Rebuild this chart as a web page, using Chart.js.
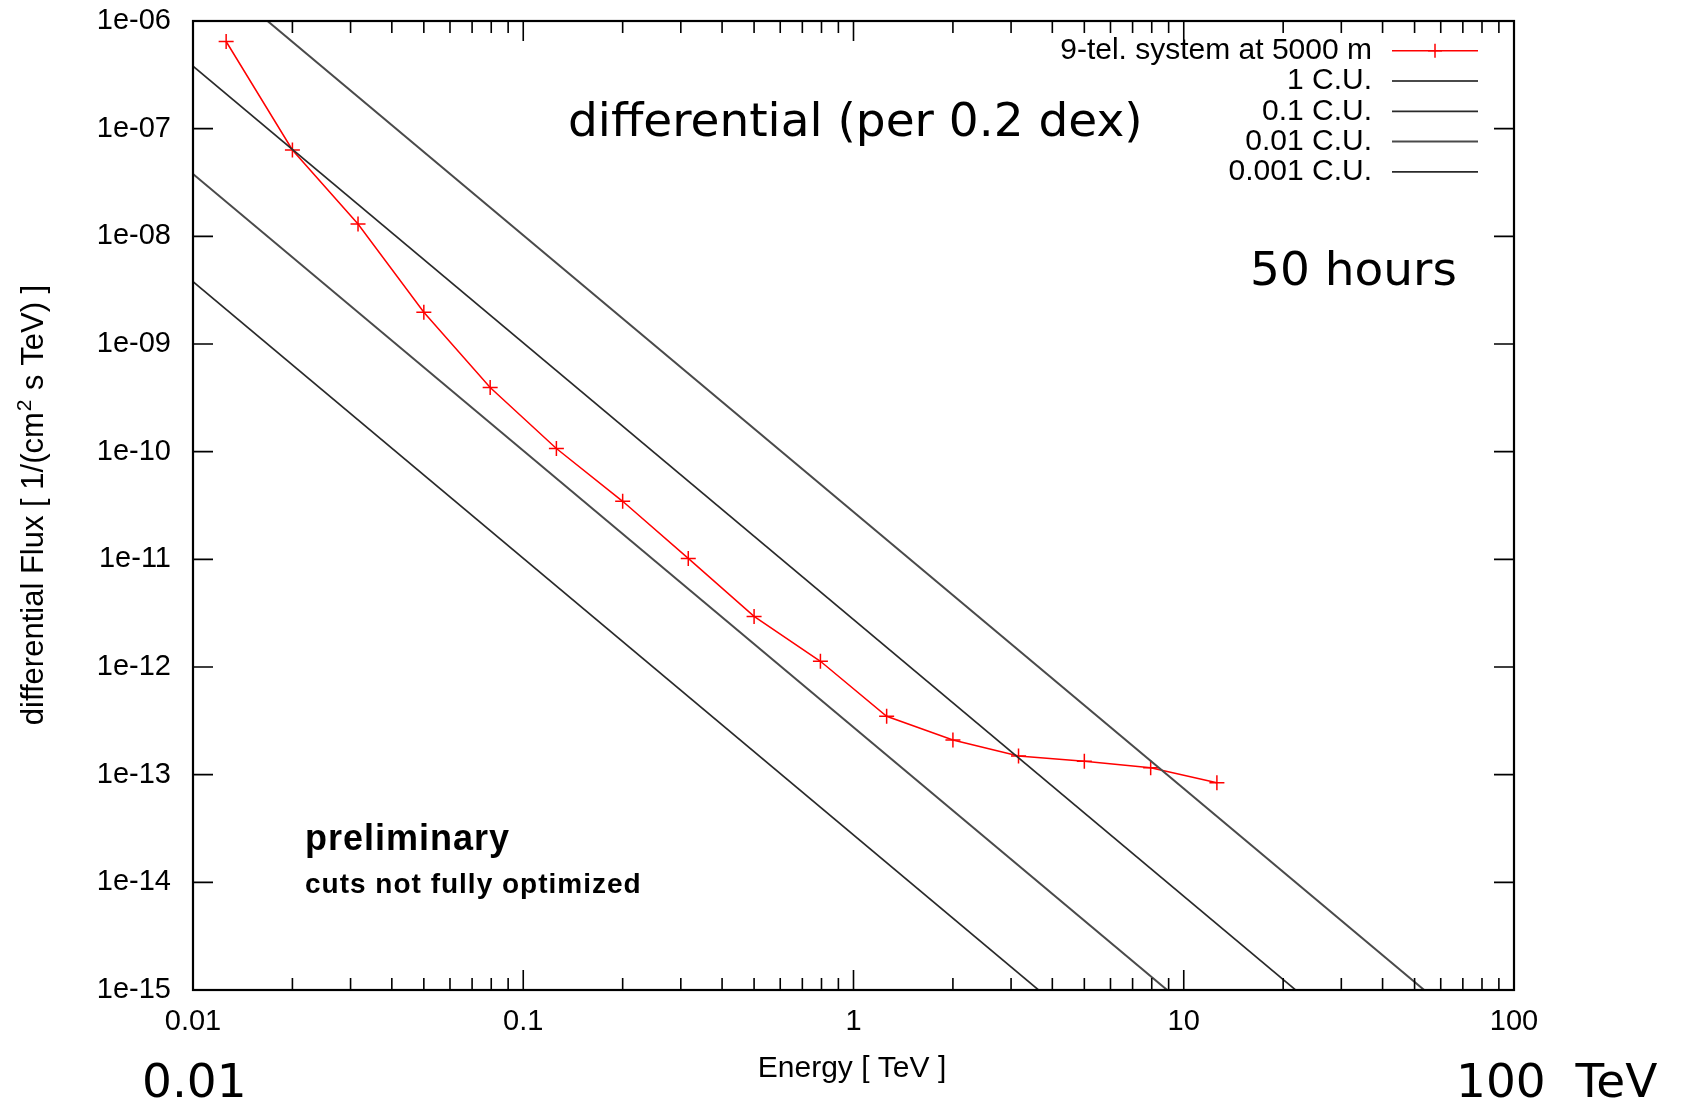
<!DOCTYPE html>
<html>
<head>
<meta charset="utf-8">
<script src="https://cdn.jsdelivr.net/npm/chart.js@4.4.0/dist/chart.umd.min.js"></script>
<style>
html,body{margin:0;padding:0;background:#fff;}
#wrap{width:1682px;height:1101px;position:relative;}
canvas{display:block;}
</style>
</head>
<body>
<div id="wrap"><canvas id="c" width="1682" height="1101"></canvas></div>
<script>
// ---- data ----
const energies = [0.0126, 0.02, 0.0316, 0.05, 0.0794, 0.126, 0.2, 0.316, 0.5, 0.794, 1.26, 2, 3.16, 5, 7.94, 12.6];
const fluxSystem = [6.45e-7, 6.34e-8, 1.30e-8, 1.97e-9, 3.95e-10, 1.07e-10, 3.46e-11, 1.02e-11, 2.95e-12, 1.13e-12, 3.49e-13, 2.10e-13, 1.49e-13, 1.33e-13, 1.16e-13, 8.4e-14];
const crabEnergies = [0.01, 100];
const crab1 = [3.8e-6, 2.0e-16];
const crab01 = [3.8e-7, 2.0e-17];
const crab001 = [3.8e-8, 2.0e-18];
const crab0001 = [3.8e-9, 2.0e-19];
const seriesLabels = ['9-tel. system at 5000 m', '1 C.U.', '0.1 C.U.', '0.01 C.U.', '0.001 C.U.'];
const xTickValues = [0.01, 0.1, 1, 10, 100];
const xTickLabels = ['0.01', '0.1', '1', '10', '100'];
const yTickValues = [1e-15, 1e-14, 1e-13, 1e-12, 1e-11, 1e-10, 1e-9, 1e-8, 1e-7, 1e-6];
const yTickLabels = ['1e-15', '1e-14', '1e-13', '1e-12', '1e-11', '1e-10', '1e-09', '1e-08', '1e-07', '1e-06'];
const xMinorFactors = [2, 3, 4, 5, 6, 7, 8, 9];

const pts = (xs, ys) => xs.map((x, i) => ({x: x, y: ys[i]}));

const lineStyles = [
  {color: '#ff0000', width: 1.5},
  {color: '#4a4a4a', width: 2.0},
  {color: '#2a2a2a', width: 1.7},
  {color: '#4a4a4a', width: 2.0},
  {color: '#2a2a2a', width: 1.7}
];

function txt(ctx, s, x, y, font, align, baseline, spacing) {
  ctx.save();
  ctx.font = font;
  ctx.letterSpacing = (spacing || 0) + 'px';
  ctx.textAlign = align;
  ctx.textBaseline = baseline;
  ctx.fillStyle = '#000';
  let dx = 0;
  if (align === 'right' && spacing) dx = spacing;
  if (align === 'center' && spacing) dx = spacing / 2;
  ctx.fillText(s, x + dx, y);
  ctx.restore();
}

const framePlugin = {
  id: 'frame',
  afterDraw(chart) {
    const ctx = chart.ctx;
    const a = chart.chartArea;
    const xs = chart.scales.x, ys = chart.scales.y;
    ctx.save();
    ctx.strokeStyle = '#000';
    ctx.lineWidth = 1.6;
    const majorLen = 20, minorLen = 12;
    ctx.beginPath();
    for (let d = 0; d < xTickValues.length; d++) {
      const v = xTickValues[d];
      const px = xs.getPixelForValue(v);
      ctx.moveTo(px, a.bottom); ctx.lineTo(px, a.bottom - majorLen);
      ctx.moveTo(px, a.top); ctx.lineTo(px, a.top + majorLen);
      if (d < xTickValues.length - 1) {
        for (const f of xMinorFactors) {
          const mx = xs.getPixelForValue(v * f);
          ctx.moveTo(mx, a.bottom); ctx.lineTo(mx, a.bottom - minorLen);
          ctx.moveTo(mx, a.top); ctx.lineTo(mx, a.top + minorLen);
        }
      }
    }
    for (const v of yTickValues) {
      const py = ys.getPixelForValue(v);
      ctx.moveTo(a.left, py); ctx.lineTo(a.left + majorLen, py);
      ctx.moveTo(a.right, py); ctx.lineTo(a.right - majorLen, py);
    }
    ctx.stroke();
    ctx.lineWidth = 2.2;
    ctx.strokeRect(a.left, a.top, a.right - a.left, a.bottom - a.top);
    ctx.restore();

    // legend (inside plot, top right)
    const rowY0 = 50.7, rowStep = 30.3;
    chart.data.datasets.forEach((ds, i) => {
      const y = rowY0 + i * rowStep;
      txt(ctx, ds.label, 1372, y, '30px "Liberation Sans", Arial, sans-serif', 'right', 'middle', 0);
      ctx.save();
      ctx.strokeStyle = lineStyles[i].color;
      ctx.lineWidth = lineStyles[i].width;
      ctx.beginPath();
      ctx.moveTo(1392, y); ctx.lineTo(1478, y);
      ctx.stroke();
      if (i === 0) {
        ctx.beginPath();
        ctx.moveTo(1435 - 7, y); ctx.lineTo(1435 + 7, y);
        ctx.moveTo(1435, y - 7); ctx.lineTo(1435, y + 7);
        ctx.stroke();
      }
      ctx.restore();
    });

    // axis titles
    txt(ctx, 'Energy [ TeV ]', 852, 1077, '30px "Liberation Sans", Arial, sans-serif', 'center', 'alphabetic', 0);
    ctx.save();
    ctx.translate(43, 506);
    ctx.rotate(-Math.PI / 2);
    const tf = '31px "Liberation Sans", Arial, sans-serif';
    const sf = '21px "Liberation Sans", Arial, sans-serif';
    const p1 = 'differential Flux [ 1/(cm', p2 = '2', p3 = ' s TeV) ]';
    ctx.font = tf; const w1 = ctx.measureText(p1).width, w3 = ctx.measureText(p3).width;
    ctx.font = sf; const w2 = ctx.measureText(p2).width;
    let x0 = -(w1 + w2 + w3) / 2;
    txt(ctx, p1, x0, 0, tf, 'left', 'alphabetic', 0);
    txt(ctx, p2, x0 + w1 + 1, -12, sf, 'left', 'alphabetic', 0);
    txt(ctx, p3, x0 + w1 + w2 + 2, 0, tf, 'left', 'alphabetic', 0);
    ctx.restore();

    // annotations
    const big = '47px "DejaVu Sans", sans-serif';
    txt(ctx, 'differential (per 0.2 dex)', 568, 136, big, 'left', 'alphabetic', 0);
    txt(ctx, '50 hours', 1250, 285, big, 'left', 'alphabetic', 0);
    txt(ctx, '0.01', 142, 1097, big, 'left', 'alphabetic', 0);
    txt(ctx, '100  TeV', 1456, 1097, big, 'left', 'alphabetic', 0);
    txt(ctx, 'preliminary', 305, 850, 'bold 36px "Liberation Sans", Arial, sans-serif', 'left', 'alphabetic', 1);
    txt(ctx, 'cuts not fully optimized', 305, 893, 'bold 28px "Liberation Sans", Arial, sans-serif', 'left', 'alphabetic', 1);
  }
};

const datasets = [
  {label: seriesLabels[0], data: pts(energies, fluxSystem)},
  {label: seriesLabels[1], data: pts(crabEnergies, crab1)},
  {label: seriesLabels[2], data: pts(crabEnergies, crab01)},
  {label: seriesLabels[3], data: pts(crabEnergies, crab001)},
  {label: seriesLabels[4], data: pts(crabEnergies, crab0001)}
].map((d, i) => Object.assign(d, {
  borderColor: lineStyles[i].color,
  backgroundColor: lineStyles[i].color,
  borderWidth: lineStyles[i].width,
  pointStyle: 'cross',
  pointRadius: i === 0 ? 7.5 : 0,
  pointBorderWidth: 1.5,
  pointBorderColor: lineStyles[i].color,
  tension: 0,
  fill: false,
  order: 4 - i
}));

const tickFont = {family: '"Liberation Sans", Arial, sans-serif', size: 29};

new Chart(document.getElementById('c'), {
  type: 'line',
  data: {datasets: datasets},
  options: {
    responsive: false,
    animation: false,
    devicePixelRatio: 1,
    layout: {padding: {left: 2, right: 168, top: 21, bottom: 0}},
    plugins: {legend: {display: false}, tooltip: {enabled: false}, title: {display: false}},
    scales: {
      x: {
        type: 'logarithmic', position: 'bottom', min: 0.01, max: 100,
        afterBuildTicks: s => { s.ticks = xTickValues.map(v => ({value: v})); },
        afterFit: s => { s.height = 111; s.paddingLeft = 0; s.paddingRight = 0; },
        ticks: {callback: (v, i) => xTickLabels[i], font: tickFont, color: '#000', padding: 7, maxRotation: 0, autoSkip: false},
        grid: {display: false},
        border: {display: false},
        title: {display: false}
      },
      y: {
        type: 'logarithmic', position: 'left', min: 1e-15, max: 1e-6,
        afterBuildTicks: s => { s.ticks = yTickValues.map(v => ({value: v})); },
        afterFit: s => { s.width = 191; s.paddingTop = 0; s.paddingBottom = 0; },
        ticks: {callback: (v, i) => yTickLabels[i], font: tickFont, color: '#000', padding: 14, autoSkip: false},
        grid: {display: false},
        border: {display: false},
        title: {display: false}
      }
    }
  },
  plugins: [framePlugin]
});
</script>
</body>
</html>
